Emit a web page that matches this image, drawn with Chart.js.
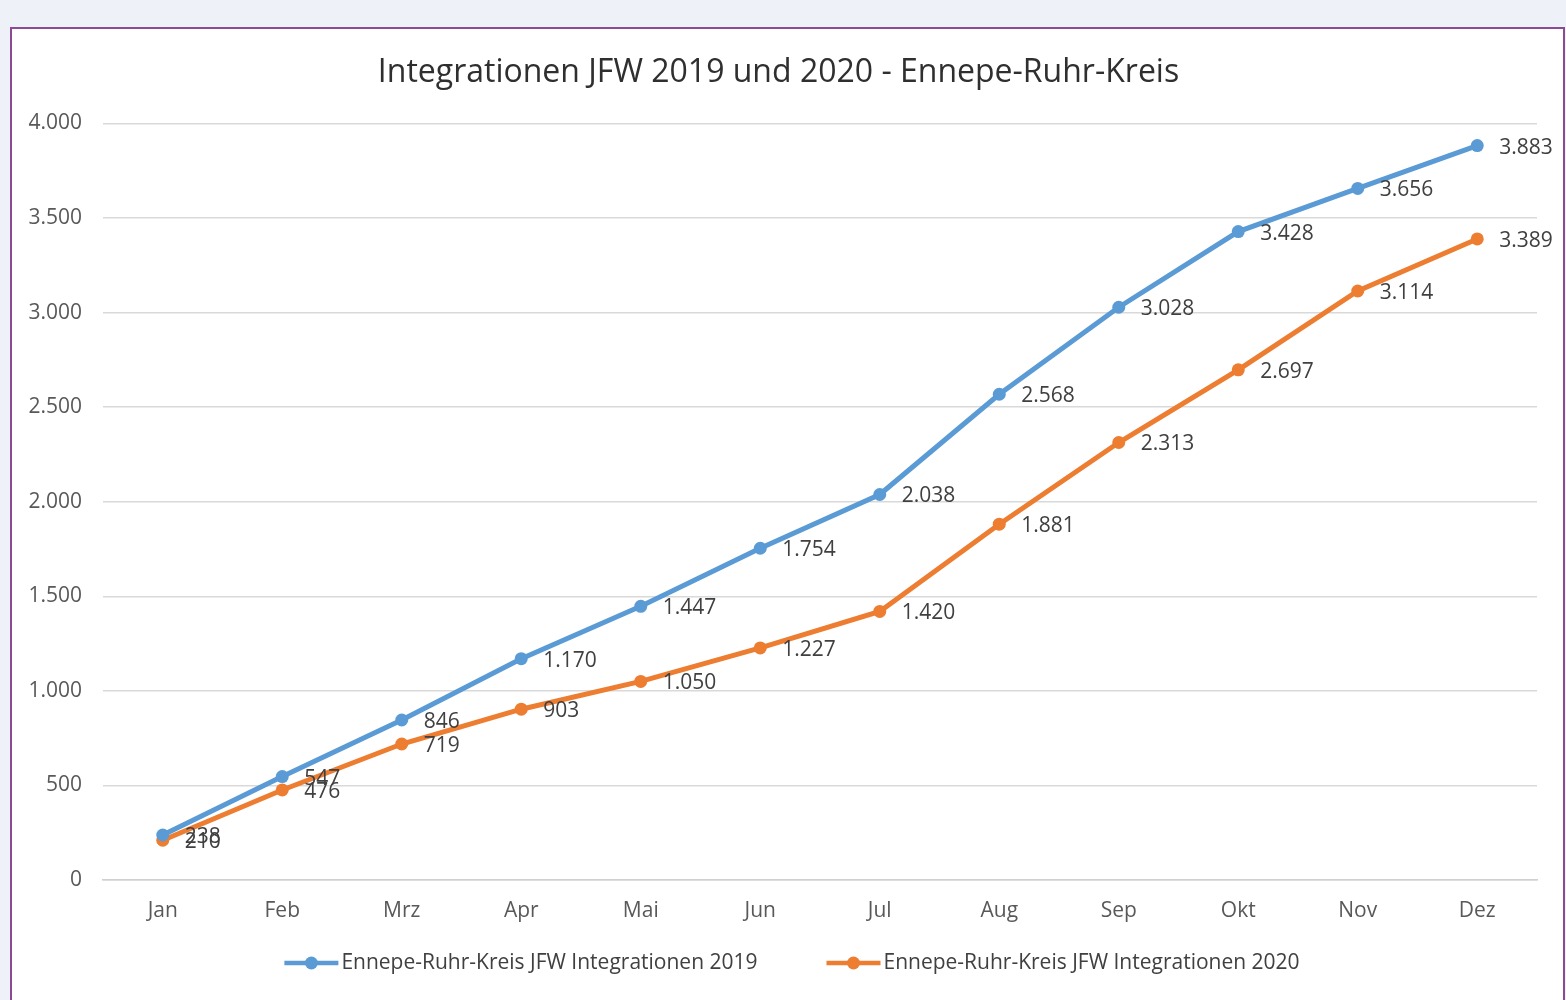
<!DOCTYPE html>
<html>
<head>
<meta charset="utf-8">
<script src="https://cdn.jsdelivr.net/npm/chart.js@4.4.1/dist/chart.umd.min.js"></script>
<style>
    html, body { margin: 0; padding: 0; background: #eef2f8; }
    #frame {
        position: absolute; left: 10px; top: 27px; width: 1551px; height: 975px;
        background: #fff; border: 2px solid #8b4a93;
    }
    #chart { position: absolute; left: 0; top: 0; }
</style>
</head>
<body>
<div id="frame"></div>
<canvas id="chart" width="1566" height="1000"></canvas>
<script>
(function () {
    'use strict';

    var months = ['Jan', 'Feb', 'Mrz', 'Apr', 'Mai', 'Jun', 'Jul', 'Aug', 'Sep', 'Okt', 'Nov', 'Dez'];
    var values2019 = [238, 547, 846, 1170, 1447, 1754, 2038, 2568, 3028, 3428, 3656, 3883];
    var values2020 = [210, 476, 719, 903, 1050, 1227, 1420, 1881, 2313, 2697, 3114, 3389];
    var seriesNames = ['Ennepe-Ruhr-Kreis JFW Integrationen 2019', 'Ennepe-Ruhr-Kreis JFW Integrationen 2020'];

    var FONT = '"Open Sans", sans-serif';

    function fmt(n) {
        return String(n).replace(/\B(?=(\d{3})+(?!\d))/g, '.');
    }

    // values written right of each point
    var pointLabels = {
        id: 'pointLabels',
        afterDatasetsDraw: function (chart) {
            var ctx = chart.ctx;
            ctx.save();
            ctx.font = '21px ' + FONT;
            ctx.fillStyle = '#404040';
            ctx.textAlign = 'left';
            ctx.textBaseline = 'middle';
            chart.data.datasets.forEach(function (ds, i) {
                chart.getDatasetMeta(i).data.forEach(function (pt, j) {
                    ctx.fillText(fmt(ds.data[j]), pt.x + 22, pt.y + 2);
                });
            });
            ctx.restore();
        }
    };

    // excel-like legend: line with a dot, then text
    var lineLegend = {
        id: 'lineLegend',
        afterDraw: function (chart) {
            var ctx = chart.ctx;
            var y = 963, lineLen = 54, gap = 3, between = 69;
            ctx.save();
            ctx.font = '21px ' + FONT;
            var widths = chart.data.datasets.map(function (ds) {
                return ctx.measureText(ds.label).width;
            });
            var total = 0;
            widths.forEach(function (w, i) {
                total += lineLen + gap + w + (i > 0 ? between : 0);
            });
            var x = 792 - total / 2;
            chart.data.datasets.forEach(function (ds, i) {
                ctx.strokeStyle = ds.borderColor;
                ctx.lineWidth = 4.5;
                ctx.beginPath();
                ctx.moveTo(x, y);
                ctx.lineTo(x + lineLen, y);
                ctx.stroke();
                ctx.fillStyle = ds.borderColor;
                ctx.beginPath();
                ctx.arc(x + lineLen / 2, y, 6.5, 0, Math.PI * 2);
                ctx.fill();
                ctx.fillStyle = '#404040';
                ctx.textAlign = 'left';
                ctx.textBaseline = 'middle';
                ctx.fillText(ds.label, x + lineLen + gap, y);
                x += lineLen + gap + widths[i] + between;
            });
            ctx.restore();
        }
    };

    function makeSet(label, data, color) {
        return {
            label: label,
            data: data,
            borderColor: color,
            backgroundColor: color,
            borderWidth: 5,
            pointRadius: 6.5,
            pointHoverRadius: 6.5,
            pointBorderWidth: 0,
            tension: 0
        };
    }

    new Chart(document.getElementById('chart'), {
        type: 'line',
        data: {
            labels: months,
            datasets: [
                makeSet(seriesNames[0], values2019, '#5b9bd5'),
                makeSet(seriesNames[1], values2020, '#ed7d31')
            ]
        },
        options: {
            responsive: false,
            animation: false,
            layout: { padding: { left: 20, right: 29, top: 27, bottom: 0 } },
            plugins: {
                legend: { display: false },
                tooltip: { enabled: false },
                title: {
                    display: true,
                    text: 'Integrationen JFW 2019 und 2020 - Ennepe-Ruhr-Kreis',
                    color: '#2f2f2f',
                    font: { family: FONT, size: 32, weight: 'normal' },
                    padding: { top: 27, bottom: 31 }
                }
            },
            scales: {
                x: {
                    offset: true,
                    grid: { display: false, drawTicks: false },
                    border: { color: '#d0d0d0', width: 1.5 },
                    ticks: { color: '#595959', font: { family: FONT, size: 21 }, padding: 18 },
                    afterFit: function (scale) { scale.height = 120; }
                },
                y: {
                    min: 0,
                    max: 4000,
                    ticks: {
                        stepSize: 500,
                        color: '#595959',
                        font: { family: FONT, size: 21 },
                        padding: 21,
                        callback: function (v) { return fmt(v); }
                    },
                    grid: { color: '#d9d9d9', lineWidth: 1.5, drawTicks: false },
                    border: { display: false },
                    afterFit: function (scale) { scale.width = 83; }
                }
            }
        },
        plugins: [pointLabels, lineLegend]
    });
})();
</script>
</body>
</html>
